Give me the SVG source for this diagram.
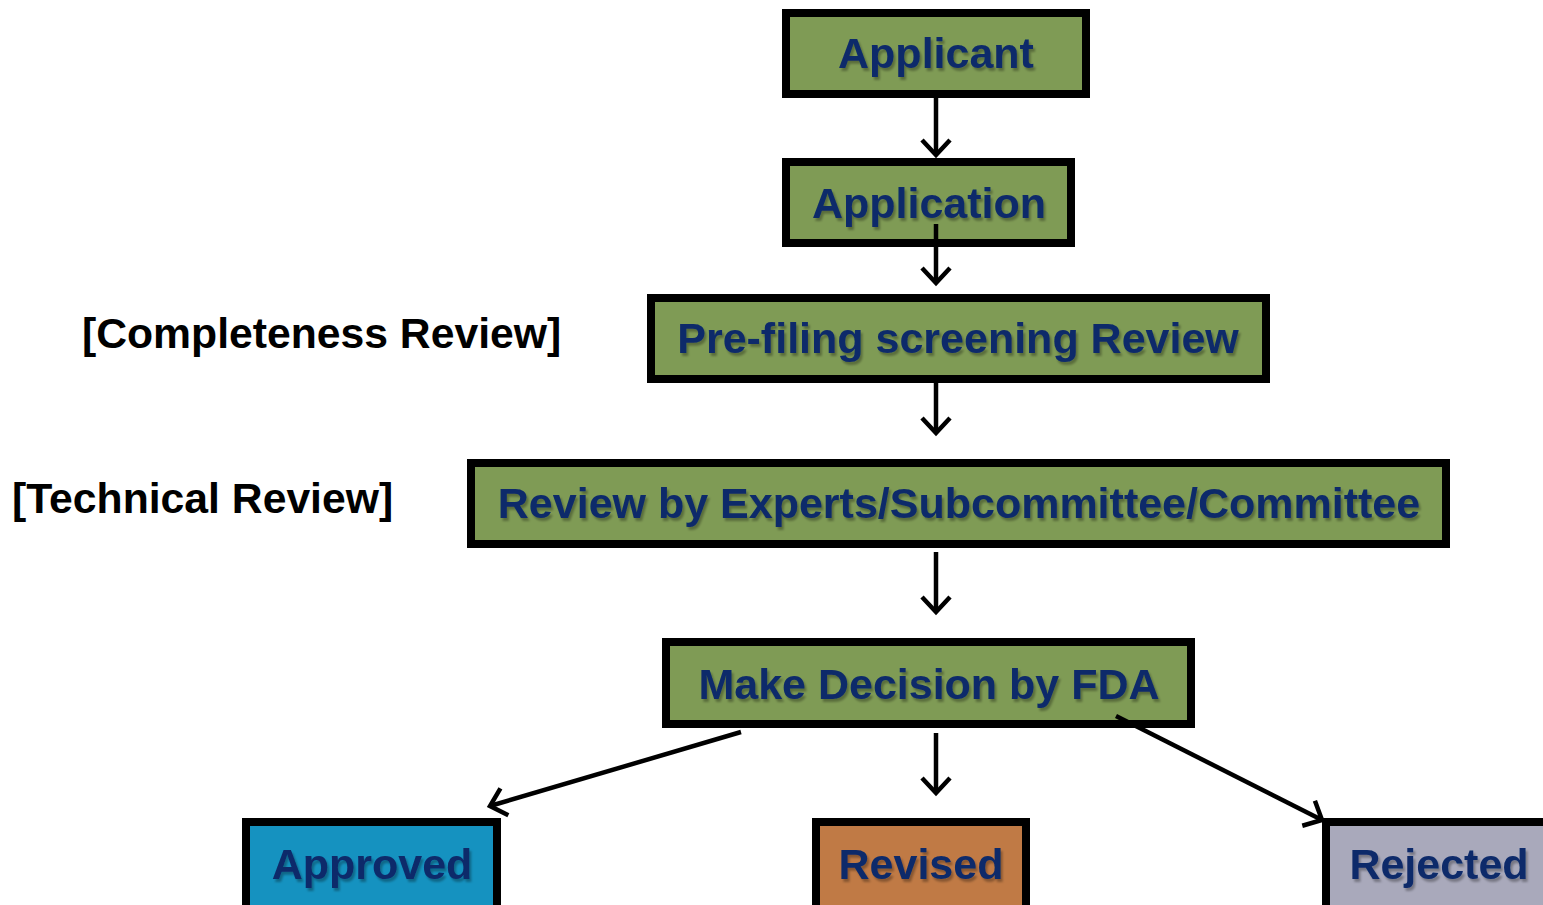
<svg xmlns="http://www.w3.org/2000/svg" width="1543" height="905" viewBox="0 0 1543 905">
<defs>
<marker id="ah" viewBox="0 0 22 32" markerWidth="22" markerHeight="32" refX="18" refY="16" orient="auto" markerUnits="userSpaceOnUse">
<path d="M3,2 L18,16 L3,30" fill="none" stroke="#000" stroke-width="4.5"/>
</marker>
<filter id="sh" x="-5%" y="-20%" width="110%" height="140%">
<feOffset dx="2" dy="3" in="SourceAlpha" result="o"/>
<feGaussianBlur in="o" stdDeviation="1" result="b"/>
<feFlood flood-color="#000" flood-opacity="0.3"/>
<feComposite in2="b" operator="in" result="s"/>
<feMerge><feMergeNode in="s"/><feMergeNode in="SourceGraphic"/></feMerge>
</filter>
</defs>
<style>
.box{stroke:#000;stroke-width:8}
.g{fill:#7f9b55}
.t{font-family:"Liberation Sans",Arial,sans-serif;font-weight:bold;font-size:43px;fill:#0c2a6a;text-anchor:middle;filter:url(#sh)}
.lbl{font-family:"Liberation Sans",Arial,sans-serif;font-weight:bold;font-size:42.7px;fill:#000}
.c{stroke:#000;stroke-width:4.5;fill:none;marker-end:url(#ah)}
</style>
<rect width="1543" height="905" fill="#fff"/>
<g id="applicant"><rect class="box g" x="786" y="13" width="300" height="81"/><text class="t" x="936" y="68">Applicant</text></g>
<g id="application"><rect class="box g" x="786" y="162" width="285" height="81"/><text class="t" x="929" y="218">Application</text></g>
<g id="prefiling"><rect class="box g" x="651" y="298" width="615" height="81"/><text class="t" x="958" y="353">Pre-filing screening Review</text></g>
<g id="review"><rect class="box g" x="471" y="463" width="975" height="81"/><text class="t" x="959" y="518">Review by Experts/Subcommittee/Committee</text></g>
<g id="decision"><rect class="box g" x="666" y="642" width="525" height="82"/><text class="t" x="929" y="699">Make Decision by FDA</text></g>
<g id="approved"><rect class="box" fill="#1592c0" x="246" y="822" width="251" height="90"/><text class="t" x="372" y="879">Approved</text></g>
<g id="revised"><rect class="box" fill="#c07a45" x="816" y="822" width="210" height="90"/><text class="t" x="921" y="879">Revised</text></g>
<g id="rejected"><rect class="box" fill="#a9a9bb" x="1326" y="822" width="230" height="90"/><text class="t" x="1439" y="879">Rejected</text></g>
<g id="label-completeness"><text class="lbl" x="82" y="348">[Completeness Review]</text></g>
<g id="label-technical"><text class="lbl" x="12" y="513">[Technical Review]</text></g>
<g id="connectors">
<line class="c" x1="936" y1="98" x2="936" y2="155"/>
<line class="c" x1="936" y1="224" x2="936" y2="283"/>
<line class="c" x1="936" y1="383" x2="936" y2="433"/>
<line class="c" x1="936" y1="552" x2="936" y2="612"/>
<line class="c" x1="936" y1="733" x2="936" y2="793"/>
<line class="c" x1="741" y1="732" x2="490" y2="806"/>
<line class="c" x1="1116" y1="716" x2="1322" y2="820"/>
</g>
</svg>
